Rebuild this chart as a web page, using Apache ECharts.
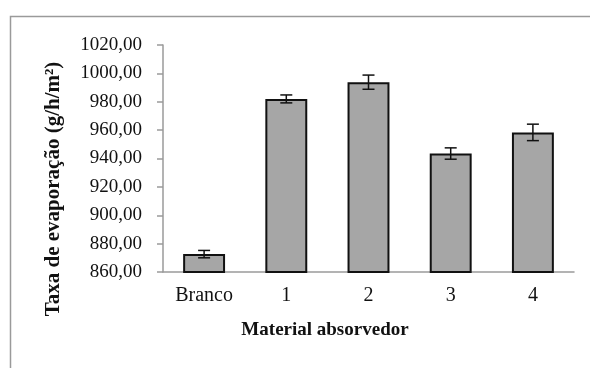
<!DOCTYPE html>
<html>
<head>
<meta charset="utf-8">
<style>
  html, body { margin: 0; padding: 0; background: #fff; }
  #chart { width: 590px; height: 368px; }
</style>
<script src="https://cdn.jsdelivr.net/npm/echarts@6/dist/echarts.min.js"></script>
</head>
<body>
<div id="chart"></div>
<script>
// Evaporation rate per absorber material (mean and standard deviation)
const categories = ['Branco', '1', '2', '3', '4'];
const meanValues = [872.6, 982.0, 993.8, 943.5, 958.4];
const errorValues = [2.6, 2.8, 5.0, 4.0, 5.8];
const yTicks = { min: 860, max: 1020, step: 20 };

const serif = '"Liberation Serif", "Times New Roman", serif';
const chart = echarts.init(document.getElementById('chart'));

const errorData = meanValues.map((v, i) => [i, v - errorValues[i], v + errorValues[i]]);

chart.setOption({
  animation: false,
  backgroundColor: '#ffffff',
  grid: { left: 163, right: 16, top: 45, bottom: 96, containLabel: false },
  xAxis: {
    type: 'category',
    data: categories,
    axisLine: { lineStyle: { color: '#9a9a9a', width: 1.5 } },
    axisTick: { show: false },
    axisLabel: { color: '#111', fontFamily: serif, fontSize: 20, margin: 14 }
  },
  yAxis: {
    type: 'value',
    min: yTicks.min,
    max: yTicks.max,
    interval: yTicks.step,
    splitLine: { show: false },
    axisLine: { show: true, lineStyle: { color: '#9a9a9a', width: 1.5 } },
    axisTick: { show: true, length: 6, lineStyle: { color: '#9a9a9a', width: 1.5 } },
    axisLabel: {
      color: '#111', fontFamily: serif, fontSize: 19, margin: 21,
      formatter: v => v.toFixed(2).replace('.', ',')
    }
  },
  graphic: [
    {
      type: 'polyline',
      shape: { points: [[10.5, 368], [10.5, 16.5], [590, 16.5]] },
      style: { stroke: '#9a9a9a', lineWidth: 1.5, fill: null },
      silent: true
    },
    {
      type: 'text',
      x: 54, y: 189, rotation: Math.PI / 2,
      style: {
        text: 'Taxa de evaporação (g/h/m²)',
        fontFamily: serif, fontSize: 21, fontWeight: 'bold', fill: '#111',
        align: 'center', verticalAlign: 'middle'
      }
    },
    {
      type: 'text',
      x: 325, y: 330,
      style: {
        text: 'Material absorvedor',
        fontFamily: serif, fontSize: 19, fontWeight: 'bold', fill: '#111',
        align: 'center', verticalAlign: 'middle'
      }
    }
  ],
  series: [
    {
      type: 'bar',
      data: meanValues,
      barWidth: '51%',
      itemStyle: { color: '#a6a6a6', borderColor: '#111', borderWidth: 2 },
      z: 2
    },
    {
      type: 'custom',
      data: errorData,
      z: 3,
      renderItem: (params, api) => {
        const x = api.coord([api.value(0), api.value(1)])[0];
        const yLow = api.coord([api.value(0), api.value(1)])[1];
        const yHigh = api.coord([api.value(0), api.value(2)])[1];
        const half = 6;
        const style = { stroke: '#111', lineWidth: 1.5 };
        return {
          type: 'group',
          children: [
            { type: 'line', shape: { x1: x, y1: yLow, x2: x, y2: yHigh }, style },
            { type: 'line', shape: { x1: x - half, y1: yHigh, x2: x + half, y2: yHigh }, style },
            { type: 'line', shape: { x1: x - half, y1: yLow, x2: x + half, y2: yLow }, style }
          ]
        };
      }
    }
  ]
});
</script>
</body>
</html>
